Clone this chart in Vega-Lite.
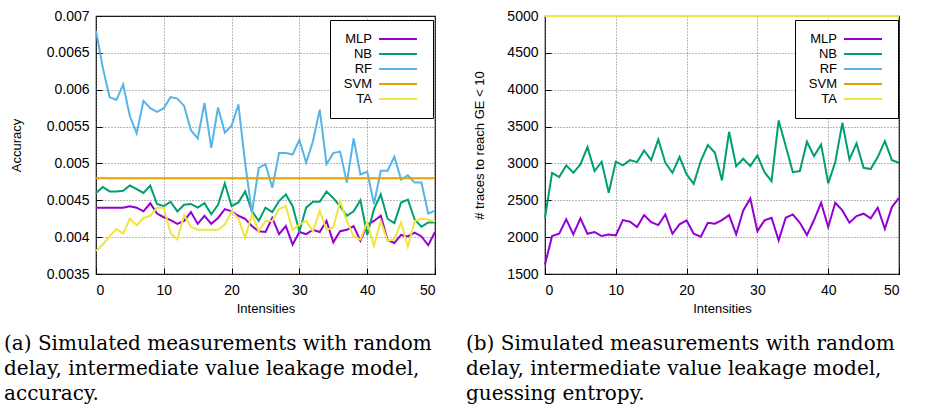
{
  "$schema": "https://vega.github.io/schema/vega-lite/v6.json",
  "background": "white",
  "padding": {"left": 3, "top": 8, "right": 2, "bottom": 2},
  "spacing": 110,
  "bounds": "flush",
  "config": {
    "view": {"stroke": "black", "strokeWidth": 1.2},
    "font": "Liberation Sans",
    "axis": {
      "grid": true, "gridDash": [1, 2], "gridColor": "#666", "gridOpacity": 0.9, "gridWidth": 1,
      "domain": false, "tickColor": "black", "tickSize": -6, "tickWidth": 1,
      "labelFont": "Liberation Sans", "labelFontSize": 14, "labelColor": "black", "labelPadding": 13,
      "titleFont": "Liberation Sans", "titleFontSize": 13, "titleFontWeight": "normal", "titleColor": "black"
    },
    "axisX": {"labelPadding": 15, "titlePadding": 5},
    "legend": {
      "orient": "none", "legendY": 4, "title": null,
      "labelFont": "Liberation Sans", "labelFontSize": 13, "labelColor": "black",
      "labelAlign": "right", "labelOffset": 16,
      "symbolType": "M5,0H11.33", "symbolSize": 144, "symbolStrokeWidth": 2,
      "rowPadding": 1, "padding": 12, "strokeColor": "black", "fillColor": "white"
    },
    "title": {
      "font": "DejaVu Serif", "fontSize": 20, "fontWeight": "normal", "color": "black",
      "anchor": "start", "orient": "bottom", "frame": "group", "lineHeight": 25, "offset": 19
    }
  },
  "hconcat": [
    {
      "width": 339, "height": 258,
      "title": {"text": ["(a) Simulated measurements with random", "delay, intermediate value leakage model,", "accuracy."], "dx": -92},
      "data": {"values": [
        {"i":0,"MLP":0.0044,"NB":0.0046,"RF":0.0068,"SVM":0.0048,"TA":0.00381},
        {"i":1,"MLP":0.0044,"NB":0.00468,"RF":0.0063,"SVM":0.0048,"TA":0.0039},
        {"i":2,"MLP":0.0044,"NB":0.00462,"RF":0.0059,"SVM":0.0048,"TA":0.00401},
        {"i":3,"MLP":0.0044,"NB":0.00462,"RF":0.00586,"SVM":0.0048,"TA":0.00411},
        {"i":4,"MLP":0.0044,"NB":0.00463,"RF":0.00607,"SVM":0.0048,"TA":0.00405},
        {"i":5,"MLP":0.00442,"NB":0.0047,"RF":0.00564,"SVM":0.0048,"TA":0.00425},
        {"i":6,"MLP":0.0044,"NB":0.00465,"RF":0.00541,"SVM":0.0048,"TA":0.00416},
        {"i":7,"MLP":0.00435,"NB":0.0046,"RF":0.00585,"SVM":0.0048,"TA":0.00426},
        {"i":8,"MLP":0.00446,"NB":0.0047,"RF":0.00575,"SVM":0.0048,"TA":0.00429},
        {"i":9,"MLP":0.00432,"NB":0.00445,"RF":0.0057,"SVM":0.0048,"TA":0.0044},
        {"i":10,"MLP":0.00427,"NB":0.00442,"RF":0.00575,"SVM":0.0048,"TA":0.0044},
        {"i":11,"MLP":0.00423,"NB":0.00448,"RF":0.0059,"SVM":0.0048,"TA":0.00405},
        {"i":12,"MLP":0.00418,"NB":0.00435,"RF":0.00588,"SVM":0.0048,"TA":0.00397},
        {"i":13,"MLP":0.00422,"NB":0.00444,"RF":0.00578,"SVM":0.0048,"TA":0.0043},
        {"i":14,"MLP":0.00434,"NB":0.00445,"RF":0.00545,"SVM":0.0048,"TA":0.00414},
        {"i":15,"MLP":0.00418,"NB":0.0044,"RF":0.00534,"SVM":0.0048,"TA":0.0041},
        {"i":16,"MLP":0.00429,"NB":0.00446,"RF":0.00582,"SVM":0.0048,"TA":0.0041},
        {"i":17,"MLP":0.00418,"NB":0.00431,"RF":0.00521,"SVM":0.0048,"TA":0.0041},
        {"i":18,"MLP":0.00426,"NB":0.00444,"RF":0.00576,"SVM":0.0048,"TA":0.0041},
        {"i":19,"MLP":0.00438,"NB":0.00473,"RF":0.00542,"SVM":0.0048,"TA":0.00417},
        {"i":20,"MLP":0.00435,"NB":0.00442,"RF":0.00551,"SVM":0.0048,"TA":0.00435},
        {"i":21,"MLP":0.00429,"NB":0.00447,"RF":0.0058,"SVM":0.0048,"TA":0.00425},
        {"i":22,"MLP":0.00425,"NB":0.00462,"RF":0.005,"SVM":0.0048,"TA":0.00399},
        {"i":23,"MLP":0.00415,"NB":0.00435,"RF":0.00433,"SVM":0.0048,"TA":0.00431},
        {"i":24,"MLP":0.00408,"NB":0.00422,"RF":0.00494,"SVM":0.0048,"TA":0.00408},
        {"i":25,"MLP":0.00407,"NB":0.0044,"RF":0.00499,"SVM":0.0048,"TA":0.00422},
        {"i":26,"MLP":0.00426,"NB":0.00434,"RF":0.00467,"SVM":0.0048,"TA":0.00422},
        {"i":27,"MLP":0.00404,"NB":0.00449,"RF":0.00514,"SVM":0.0048,"TA":0.00438},
        {"i":28,"MLP":0.00415,"NB":0.00458,"RF":0.00514,"SVM":0.0048,"TA":0.00442},
        {"i":29,"MLP":0.0039,"NB":0.00442,"RF":0.00512,"SVM":0.0048,"TA":0.0041},
        {"i":30,"MLP":0.00407,"NB":0.00408,"RF":0.00532,"SVM":0.0048,"TA":0.00417},
        {"i":31,"MLP":0.00404,"NB":0.0044,"RF":0.00501,"SVM":0.0048,"TA":0.00422},
        {"i":32,"MLP":0.0041,"NB":0.00448,"RF":0.0053,"SVM":0.0048,"TA":0.00408},
        {"i":33,"MLP":0.00407,"NB":0.00448,"RF":0.00573,"SVM":0.0048,"TA":0.00436},
        {"i":34,"MLP":0.00422,"NB":0.00462,"RF":0.00499,"SVM":0.0048,"TA":0.0041},
        {"i":35,"MLP":0.00393,"NB":0.00453,"RF":0.00514,"SVM":0.0048,"TA":0.00413},
        {"i":36,"MLP":0.00408,"NB":0.00442,"RF":0.00516,"SVM":0.0048,"TA":0.00449},
        {"i":37,"MLP":0.0041,"NB":0.00429,"RF":0.00474,"SVM":0.0048,"TA":0.00422},
        {"i":38,"MLP":0.00415,"NB":0.00435,"RF":0.00534,"SVM":0.0048,"TA":0.00401},
        {"i":39,"MLP":0.00395,"NB":0.0045,"RF":0.00485,"SVM":0.0048,"TA":0.00397},
        {"i":40,"MLP":0.00417,"NB":0.00403,"RF":0.00489,"SVM":0.0048,"TA":0.0042},
        {"i":41,"MLP":0.00422,"NB":0.00438,"RF":0.00445,"SVM":0.0048,"TA":0.00388},
        {"i":42,"MLP":0.00429,"NB":0.00458,"RF":0.0049,"SVM":0.0048,"TA":0.00422},
        {"i":43,"MLP":0.00396,"NB":0.00425,"RF":0.0049,"SVM":0.0048,"TA":0.00395},
        {"i":44,"MLP":0.00392,"NB":0.00419,"RF":0.00509,"SVM":0.0048,"TA":0.00397},
        {"i":45,"MLP":0.00403,"NB":0.00447,"RF":0.00478,"SVM":0.0048,"TA":0.0042},
        {"i":46,"MLP":0.00401,"NB":0.00451,"RF":0.00484,"SVM":0.0048,"TA":0.00387},
        {"i":47,"MLP":0.00406,"NB":0.00424,"RF":0.00474,"SVM":0.0048,"TA":0.00422},
        {"i":48,"MLP":0.00401,"NB":0.00414,"RF":0.00474,"SVM":0.0048,"TA":0.00425},
        {"i":49,"MLP":0.00389,"NB":0.0042,"RF":0.00432,"SVM":0.0048,"TA":0.00424},
        {"i":50,"MLP":0.00407,"NB":0.0042,"RF":0.00436,"SVM":0.0048,"TA":0.00421}
      ]},
      "transform": [{"fold": ["MLP", "NB", "RF", "SVM", "TA"], "as": ["model", "value"]}],
      "mark": {"type": "line", "strokeWidth": 2},
      "encoding": {
        "x": {"field": "i", "type": "quantitative", "scale": {"domain": [0, 50], "nice": false},
              "axis": {"values": [0, 10, 20, 30, 40, 50], "title": "Intensities"}},
        "y": {"field": "value", "type": "quantitative", "scale": {"domain": [0.0035, 0.007], "nice": false, "zero": false},
              "axis": {"values": [0.0035, 0.004, 0.0045, 0.005, 0.0055, 0.006, 0.0065, 0.007], "format": "~g", "title": "Accuracy", "titleX": -73}},
        "color": {"field": "model", "type": "nominal",
                  "scale": {"domain": ["MLP", "NB", "RF", "SVM", "TA"], "range": ["#9400d3", "#009e73", "#56b4e9", "#e69f00", "#f0e442"]},
                  "legend": {"legendX": 234}}
      }
    },
    {
      "width": 354, "height": 258,
      "title": {"text": ["(b) Simulated measurements with random", "delay, intermediate value leakage model,", "guessing entropy."], "dx": -79},
      "data": {"values": [
        {"i":0,"MLP":1630,"NB":2263,"RF":5000,"SVM":5000,"TA":5000},
        {"i":1,"MLP":2015,"NB":2873,"RF":5000,"SVM":5000,"TA":5000},
        {"i":2,"MLP":2046,"NB":2815,"RF":5000,"SVM":5000,"TA":5000},
        {"i":3,"MLP":2241,"NB":2973,"RF":5000,"SVM":5000,"TA":5000},
        {"i":4,"MLP":2037,"NB":2873,"RF":5000,"SVM":5000,"TA":5000},
        {"i":5,"MLP":2254,"NB":2986,"RF":5000,"SVM":5000,"TA":5000},
        {"i":6,"MLP":2046,"NB":3221,"RF":5000,"SVM":5000,"TA":5000},
        {"i":7,"MLP":2069,"NB":2896,"RF":5000,"SVM":5000,"TA":5000},
        {"i":8,"MLP":2015,"NB":3023,"RF":5000,"SVM":5000,"TA":5000},
        {"i":9,"MLP":2037,"NB":2602,"RF":5000,"SVM":5000,"TA":5000},
        {"i":10,"MLP":2024,"NB":3023,"RF":5000,"SVM":5000,"TA":5000},
        {"i":11,"MLP":2232,"NB":2973,"RF":5000,"SVM":5000,"TA":5000},
        {"i":12,"MLP":2209,"NB":3045,"RF":5000,"SVM":5000,"TA":5000},
        {"i":13,"MLP":2137,"NB":3018,"RF":5000,"SVM":5000,"TA":5000},
        {"i":14,"MLP":2299,"NB":3176,"RF":5000,"SVM":5000,"TA":5000},
        {"i":15,"MLP":2204,"NB":3045,"RF":5000,"SVM":5000,"TA":5000},
        {"i":16,"MLP":2164,"NB":3325,"RF":5000,"SVM":5000,"TA":5000},
        {"i":17,"MLP":2308,"NB":3009,"RF":5000,"SVM":5000,"TA":5000},
        {"i":18,"MLP":2046,"NB":2873,"RF":5000,"SVM":5000,"TA":5000},
        {"i":19,"MLP":2173,"NB":3090,"RF":5000,"SVM":5000,"TA":5000},
        {"i":20,"MLP":2227,"NB":2851,"RF":5000,"SVM":5000,"TA":5000},
        {"i":21,"MLP":2046,"NB":2724,"RF":5000,"SVM":5000,"TA":5000},
        {"i":22,"MLP":2006,"NB":3032,"RF":5000,"SVM":5000,"TA":5000},
        {"i":23,"MLP":2195,"NB":3249,"RF":5000,"SVM":5000,"TA":5000},
        {"i":24,"MLP":2182,"NB":3145,"RF":5000,"SVM":5000,"TA":5000},
        {"i":25,"MLP":2232,"NB":2770,"RF":5000,"SVM":5000,"TA":5000},
        {"i":26,"MLP":2299,"NB":3429,"RF":5000,"SVM":5000,"TA":5000},
        {"i":27,"MLP":2037,"NB":2964,"RF":5000,"SVM":5000,"TA":5000},
        {"i":28,"MLP":2363,"NB":3063,"RF":5000,"SVM":5000,"TA":5000},
        {"i":29,"MLP":2525,"NB":2964,"RF":5000,"SVM":5000,"TA":5000},
        {"i":30,"MLP":2082,"NB":3108,"RF":5000,"SVM":5000,"TA":5000},
        {"i":31,"MLP":2227,"NB":2882,"RF":5000,"SVM":5000,"TA":5000},
        {"i":32,"MLP":2263,"NB":2760,"RF":5000,"SVM":5000,"TA":5000},
        {"i":33,"MLP":1956,"NB":3583,"RF":5000,"SVM":5000,"TA":5000},
        {"i":34,"MLP":2263,"NB":3235,"RF":5000,"SVM":5000,"TA":5000},
        {"i":35,"MLP":2308,"NB":2882,"RF":5000,"SVM":5000,"TA":5000},
        {"i":36,"MLP":2195,"NB":2896,"RF":5000,"SVM":5000,"TA":5000},
        {"i":37,"MLP":2028,"NB":3294,"RF":5000,"SVM":5000,"TA":5000},
        {"i":38,"MLP":2232,"NB":3099,"RF":5000,"SVM":5000,"TA":5000},
        {"i":39,"MLP":2467,"NB":3258,"RF":5000,"SVM":5000,"TA":5000},
        {"i":40,"MLP":2137,"NB":2729,"RF":5000,"SVM":5000,"TA":5000},
        {"i":41,"MLP":2467,"NB":3018,"RF":5000,"SVM":5000,"TA":5000},
        {"i":42,"MLP":2363,"NB":3551,"RF":5000,"SVM":5000,"TA":5000},
        {"i":43,"MLP":2195,"NB":3054,"RF":5000,"SVM":5000,"TA":5000},
        {"i":44,"MLP":2286,"NB":3271,"RF":5000,"SVM":5000,"TA":5000},
        {"i":45,"MLP":2318,"NB":2941,"RF":5000,"SVM":5000,"TA":5000},
        {"i":46,"MLP":2254,"NB":2923,"RF":5000,"SVM":5000,"TA":5000},
        {"i":47,"MLP":2399,"NB":3086,"RF":5000,"SVM":5000,"TA":5000},
        {"i":48,"MLP":2114,"NB":3303,"RF":5000,"SVM":5000,"TA":5000},
        {"i":49,"MLP":2408,"NB":3045,"RF":5000,"SVM":5000,"TA":5000},
        {"i":50,"MLP":2534,"NB":3009,"RF":5000,"SVM":5000,"TA":5000}
      ]},
      "transform": [{"fold": ["MLP", "NB", "RF", "SVM", "TA"], "as": ["model", "value"]}],
      "mark": {"type": "line", "strokeWidth": 2},
      "encoding": {
        "x": {"field": "i", "type": "quantitative", "scale": {"domain": [0, 50], "nice": false},
              "axis": {"values": [0, 10, 20, 30, 40, 50], "title": "Intensities"}},
        "y": {"field": "value", "type": "quantitative", "scale": {"domain": [1500, 5000], "nice": false, "zero": false},
              "axis": {"values": [1500, 2000, 2500, 3000, 3500, 4000, 4500, 5000], "format": "d", "title": "# traces to reach GE < 10", "titleX": -59}},
        "color": {"field": "model", "type": "nominal",
                  "scale": {"domain": ["MLP", "NB", "RF", "SVM", "TA"], "range": ["#9400d3", "#009e73", "#56b4e9", "#e69f00", "#f0e442"]},
                  "legend": {"legendX": 250}}
      }
    }
  ],
  "resolve": {"scale": {"y": "independent", "color": "shared"}, "legend": {"color": "independent"}}
}
